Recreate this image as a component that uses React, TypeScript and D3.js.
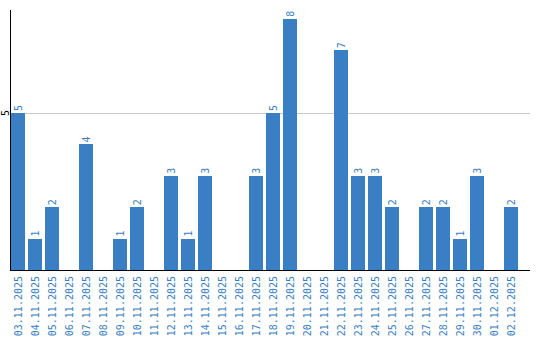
import React from "react";
import * as d3 from "d3";

const dates = [
  "03.11.2025", "04.11.2025", "05.11.2025", "06.11.2025", "07.11.2025", "08.11.2025",
  "09.11.2025", "10.11.2025", "11.11.2025", "12.11.2025", "13.11.2025", "14.11.2025",
  "15.11.2025", "16.11.2025", "17.11.2025", "18.11.2025", "19.11.2025", "20.11.2025",
  "21.11.2025", "22.11.2025", "23.11.2025", "24.11.2025", "25.11.2025", "26.11.2025",
  "27.11.2025", "28.11.2025", "29.11.2025", "30.11.2025", "01.12.2025", "02.12.2025",
];
const counts = [5, 1, 2, 0, 4, 0, 1, 2, 0, 3, 1, 3, 0, 0, 3, 5, 8, 0, 0, 7, 3, 3, 2, 0, 2, 2, 1, 3, 0, 2];
const yTicks = [5];
const yMax = 8.28;

const W = 540;
const H = 340;
const left = 10.5;
const right = 530;
const top = 10;
const bottom = 270;
const blue = "#3a7ec3";
const font = "'DejaVu Sans Mono', monospace";

export default function App() {
  const x = d3.scaleBand<string>().domain(dates).range([11, 518]).paddingInner(3 / 17).paddingOuter(0);
  const y = d3.scaleLinear().domain([0, yMax]).range([bottom, top]);
  return (
    <svg width={W} height={H} style={{ position: "absolute", left: 0, top: 0, background: "#fff" }}>
      {yTicks.map((t) => (
        <g key={t}>
          <line x1={left} x2={right} y1={Math.round(y(t)) + 0.5} y2={Math.round(y(t)) + 0.5} stroke="#c8c8c8" strokeWidth={1} />
          <text
            transform={`translate(5,${y(t)}) rotate(-90)`}
            textAnchor="middle"
            dy="0.35em"
            fontFamily={font}
            fontSize={10}
            fill="#000"
          >
            {t}
          </text>
        </g>
      ))}
      {dates.map((d, i) => {
        const v = counts[i];
        const bx = x(d) as number;
        const cx = bx + x.bandwidth() / 2;
        return (
          <g key={d}>
            {v > 0 && (
              <>
                <rect x={bx} y={y(v)} width={x.bandwidth()} height={bottom - y(v)} fill={blue} shapeRendering="crispEdges" />
                <text
                  transform={`translate(${cx},${y(v) - 2}) rotate(-90)`}
                  textAnchor="start"
                  dy="0.35em"
                  fontFamily={font}
                  fontSize={10}
                  fill={blue}
                >
                  {v}
                </text>
              </>
            )}
            <text
              transform={`translate(${cx},${bottom + 6}) rotate(-90)`}
              textAnchor="end"
              dy="0.35em"
              fontFamily={font}
              fontSize={10}
              fill={blue}
            >
              {d}
            </text>
          </g>
        );
      })}
      <line x1={left} x2={left} y1={top} y2={bottom} stroke="#000" strokeWidth={1} />
      <line x1={left - 0.5} x2={right} y1={bottom + 0.5} y2={bottom + 0.5} stroke="#000" strokeWidth={1} />
    </svg>
  );
}
